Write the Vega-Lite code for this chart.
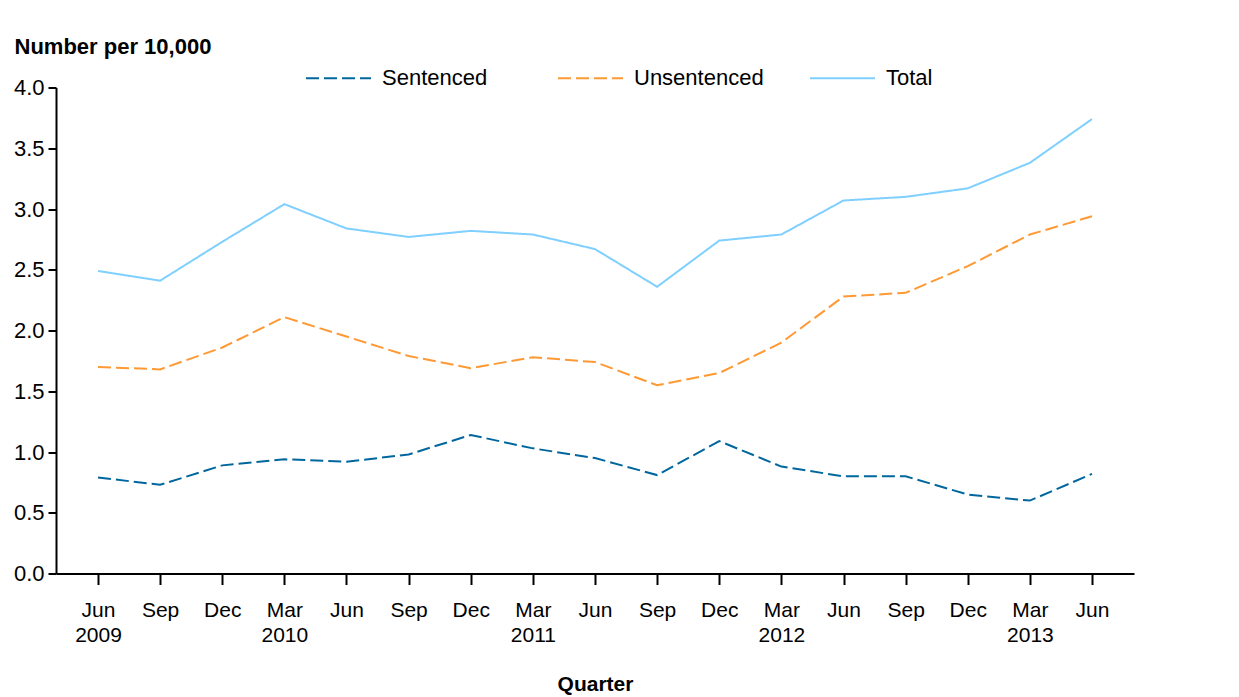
{
  "$schema": "https://vega.github.io/schema/vega-lite/v6.json",
  "width": 1078,
  "height": 486,
  "autosize": "none",
  "padding": {"left": 56, "top": 87.5, "right": 105, "bottom": 123.5},
  "background": "white",
  "config": {"view": {"stroke": null}, "font": "Liberation Sans"},
  "data": {
    "values": [
      {"quarter": "Jun 2009", "series": "Sentenced", "value": 0.79},
      {"quarter": "Sep 2009", "series": "Sentenced", "value": 0.73},
      {"quarter": "Dec 2009", "series": "Sentenced", "value": 0.89},
      {"quarter": "Mar 2010", "series": "Sentenced", "value": 0.94},
      {"quarter": "Jun 2010", "series": "Sentenced", "value": 0.92},
      {"quarter": "Sep 2010", "series": "Sentenced", "value": 0.98},
      {"quarter": "Dec 2010", "series": "Sentenced", "value": 1.14},
      {"quarter": "Mar 2011", "series": "Sentenced", "value": 1.03},
      {"quarter": "Jun 2011", "series": "Sentenced", "value": 0.95},
      {"quarter": "Sep 2011", "series": "Sentenced", "value": 0.81},
      {"quarter": "Dec 2011", "series": "Sentenced", "value": 1.09},
      {"quarter": "Mar 2012", "series": "Sentenced", "value": 0.88},
      {"quarter": "Jun 2012", "series": "Sentenced", "value": 0.80},
      {"quarter": "Sep 2012", "series": "Sentenced", "value": 0.80},
      {"quarter": "Dec 2012", "series": "Sentenced", "value": 0.65},
      {"quarter": "Mar 2013", "series": "Sentenced", "value": 0.60},
      {"quarter": "Jun 2013", "series": "Sentenced", "value": 0.82},
      {"quarter": "Jun 2009", "series": "Unsentenced", "value": 1.70},
      {"quarter": "Sep 2009", "series": "Unsentenced", "value": 1.68},
      {"quarter": "Dec 2009", "series": "Unsentenced", "value": 1.86},
      {"quarter": "Mar 2010", "series": "Unsentenced", "value": 2.11},
      {"quarter": "Jun 2010", "series": "Unsentenced", "value": 1.95},
      {"quarter": "Sep 2010", "series": "Unsentenced", "value": 1.79},
      {"quarter": "Dec 2010", "series": "Unsentenced", "value": 1.69},
      {"quarter": "Mar 2011", "series": "Unsentenced", "value": 1.78},
      {"quarter": "Jun 2011", "series": "Unsentenced", "value": 1.74},
      {"quarter": "Sep 2011", "series": "Unsentenced", "value": 1.55},
      {"quarter": "Dec 2011", "series": "Unsentenced", "value": 1.65},
      {"quarter": "Mar 2012", "series": "Unsentenced", "value": 1.90},
      {"quarter": "Jun 2012", "series": "Unsentenced", "value": 2.28},
      {"quarter": "Sep 2012", "series": "Unsentenced", "value": 2.31},
      {"quarter": "Dec 2012", "series": "Unsentenced", "value": 2.53},
      {"quarter": "Mar 2013", "series": "Unsentenced", "value": 2.79},
      {"quarter": "Jun 2013", "series": "Unsentenced", "value": 2.94},
      {"quarter": "Jun 2009", "series": "Total", "value": 2.49},
      {"quarter": "Sep 2009", "series": "Total", "value": 2.41},
      {"quarter": "Dec 2009", "series": "Total", "value": 2.73},
      {"quarter": "Mar 2010", "series": "Total", "value": 3.04},
      {"quarter": "Jun 2010", "series": "Total", "value": 2.84},
      {"quarter": "Sep 2010", "series": "Total", "value": 2.77},
      {"quarter": "Dec 2010", "series": "Total", "value": 2.82},
      {"quarter": "Mar 2011", "series": "Total", "value": 2.79},
      {"quarter": "Jun 2011", "series": "Total", "value": 2.67},
      {"quarter": "Sep 2011", "series": "Total", "value": 2.36},
      {"quarter": "Dec 2011", "series": "Total", "value": 2.74},
      {"quarter": "Mar 2012", "series": "Total", "value": 2.79},
      {"quarter": "Jun 2012", "series": "Total", "value": 3.07},
      {"quarter": "Sep 2012", "series": "Total", "value": 3.10},
      {"quarter": "Dec 2012", "series": "Total", "value": 3.17},
      {"quarter": "Mar 2013", "series": "Total", "value": 3.38},
      {"quarter": "Jun 2013", "series": "Total", "value": 3.74}
    ]
  },
  "mark": {"type": "line", "strokeWidth": 2},
  "encoding": {
    "x": {
      "field": "quarter",
      "type": "ordinal",
      "sort": null,
      "scale": {"type": "point", "padding": 0.676},
      "axis": {
        "title": "Quarter",
        "titleFontSize": 21,
        "titleFontWeight": "bold",
        "titleColor": "black",
        "titleY": 117,
        "titleBaseline": "alphabetic",
        "labelExpr": "(substring(datum.value,0,3)=='Mar' || datum.value=='Jun 2009') ? split(datum.value,' ') : substring(datum.value,0,3)",
        "labelAngle": 0,
        "labelFontSize": 21,
        "labelColor": "black",
        "labelPadding": 15,
        "labelLineHeight": 25,
        "labelBaseline": "top",
        "tickSize": 11,
        "tickColor": "black",
        "tickWidth": 2,
        "domainColor": "black",
        "domainWidth": 2
      }
    },
    "y": {
      "field": "value",
      "type": "quantitative",
      "scale": {"domain": [0, 4], "nice": false},
      "axis": {
        "title": "Number per 10,000",
        "titleAngle": 0,
        "titleX": -42,
        "titleY": -34.5,
        "titleAlign": "left",
        "titleBaseline": "alphabetic",
        "titleFontSize": 22,
        "titleFontWeight": "bold",
        "titleColor": "black",
        "values": [0, 0.5, 1, 1.5, 2, 2.5, 3, 3.5, 4],
        "format": ".1f",
        "grid": false,
        "labelFontSize": 22,
        "labelColor": "black",
        "labelPadding": 4,
        "tickSize": 8,
        "tickColor": "black",
        "tickWidth": 2,
        "domainColor": "black",
        "domainWidth": 2
      }
    },
    "color": {
      "field": "series",
      "type": "nominal",
      "scale": {"domain": ["Sentenced", "Unsentenced", "Total"], "range": ["#00679e", "#ff9933", "#7fcfff"]},
      "legend": {
        "title": null,
        "orient": "none",
        "legendX": 249,
        "legendY": -43,
        "direction": "horizontal",
        "symbolType": "stroke",
        "symbolSize": 4225,
        "symbolStrokeWidth": 2,
        "labelFontSize": 22,
        "labelColor": "black",
        "labelOffset": 10,
        "columnPadding": 42,
        "gridAlign": "all",
        "labelLimit": 300
      }
    },
    "strokeDash": {
      "field": "series",
      "type": "nominal",
      "scale": {"domain": ["Sentenced", "Unsentenced", "Total"], "range": [[13, 5], [13, 5], [1, 0]]},
      "legend": {
        "title": null,
        "orient": "none",
        "legendX": 249,
        "legendY": -43,
        "direction": "horizontal",
        "symbolType": "stroke",
        "symbolSize": 4225,
        "symbolStrokeWidth": 2,
        "labelFontSize": 22,
        "labelColor": "black",
        "labelOffset": 10,
        "columnPadding": 42,
        "gridAlign": "all",
        "labelLimit": 300
      }
    }
  }
}
